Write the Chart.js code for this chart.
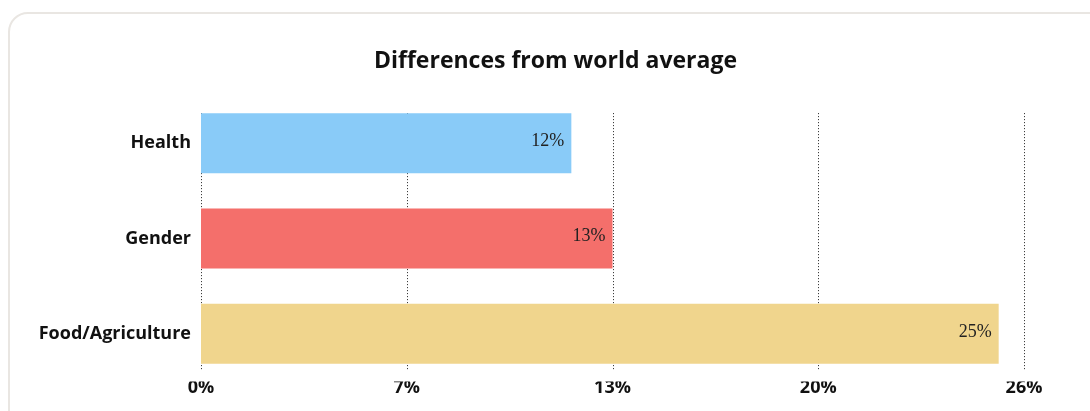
<!DOCTYPE html>
<html>
<head>
<meta charset="utf-8">
<script src="https://cdn.jsdelivr.net/npm/chart.js@4"></script>
<style>
  html, body { margin: 0; padding: 0; background: #fff; overflow: hidden; }
  body { width: 1090px; height: 411px; position: relative; }
  .card {
    position: absolute; left: 8px; top: 12px; width: 1200px; height: 600px;
    border: 2px solid #e9e6e2; border-radius: 20px; box-sizing: border-box;
  }
  .wrap { position: absolute; left: 0; top: 0; width: 1111px; height: 411px; }
</style>
</head>
<body>
<div class="card"></div>
<div class="wrap"><canvas id="chart"></canvas></div>
<script>
// Differences from world average, by area (percent)
const categories = ["Health", "Gender", "Food/Agriculture"];
const values = [11.7, 13.0, 25.2];
const barColors = ["#89cbf8", "#f46f6b", "#f0d58d"];
const tickValues = [0, 6.5, 13, 19.5, 26];

const LABEL_FONT = "'Open Sans', sans-serif";

// Dotted vertical grid, only over the span of the bars
const dottedGrid = {
  id: "dottedGrid",
  beforeDatasetsDraw(chart) {
    const bars = chart.getDatasetMeta(0).data;
    const first = bars[0], last = bars[bars.length - 1];
    const top = first.y - first.height / 2;
    const bottom = last.y + last.height / 2 + 7;
    const ctx = chart.ctx;
    ctx.save();
    ctx.strokeStyle = "#222";
    ctx.lineWidth = 1;
    ctx.setLineDash([1, 2]);
    for (const t of chart.scales.x.ticks) {
      const x = Math.round(chart.scales.x.getPixelForValue(t.value)) + 0.5;
      ctx.beginPath();
      ctx.moveTo(x, top);
      ctx.lineTo(x, bottom);
      ctx.stroke();
    }
    ctx.restore();
  }
};

// Value labels inside the end of each bar
const valueLabels = {
  id: "valueLabels",
  afterDatasetsDraw(chart) {
    const ctx = chart.ctx;
    ctx.save();
    ctx.font = "18px 'Liberation Serif', serif";
    ctx.fillStyle = "#222";
    ctx.textAlign = "right";
    ctx.textBaseline = "middle";
    chart.getDatasetMeta(0).data.forEach((bar, i) => {
      ctx.fillText(Math.round(values[i]) + "%", bar.x - 7, bar.y - 2);
    });
    ctx.restore();
  }
};

new Chart(document.getElementById("chart"), {
  type: "bar",
  data: {
    labels: categories,
    datasets: [{
      data: values,
      backgroundColor: barColors,
      borderWidth: 0,
      categoryPercentage: 1,
      barPercentage: 0.632
    }]
  },
  plugins: [dottedGrid, valueLabels],
  options: {
    indexAxis: "y",
    responsive: true, maintainAspectRatio: false,
    animation: false,
    layout: { padding: { left: 0, right: 0, top: 0, bottom: 16 } },
    plugins: {
      legend: { display: false },
      tooltip: { enabled: false },
      title: {
        display: true,
        text: "Differences from world average",
        color: "#111",
        font: { family: LABEL_FONT, size: 23, weight: "bold" },
        padding: { top: 48, bottom: 20 }
      }
    },
    scales: {
      x: {
        min: 0, max: 26,
        afterBuildTicks: s => { s.ticks = tickValues.map(v => ({ value: v })); },
        grid: { display: false, drawTicks: false },
        border: { display: false },
        ticks: {
          padding: -4,
          color: "#111",
          font: { family: LABEL_FONT, size: 18, weight: "bold" },
          callback: v => Math.round(v) + "%"
        }
      },
      y: {
        afterFit: s => { s.width = 201; },
        grid: { display: false, drawTicks: false },
        border: { display: false },
        ticks: {
          padding: 10,
          color: "#111",
          font: { family: LABEL_FONT, size: 18, weight: "bold" }
        }
      },
      // empty right-hand strip so the title stays centred on the whole card
      spacer: {
        type: "linear",
        axis: "y",
        position: "right",
        afterFit: s => { s.width = 87; },
        grid: { display: false, drawTicks: false },
        border: { display: false },
        ticks: { display: false }
      }
    }
  }
});
</script>
</body>
</html>
